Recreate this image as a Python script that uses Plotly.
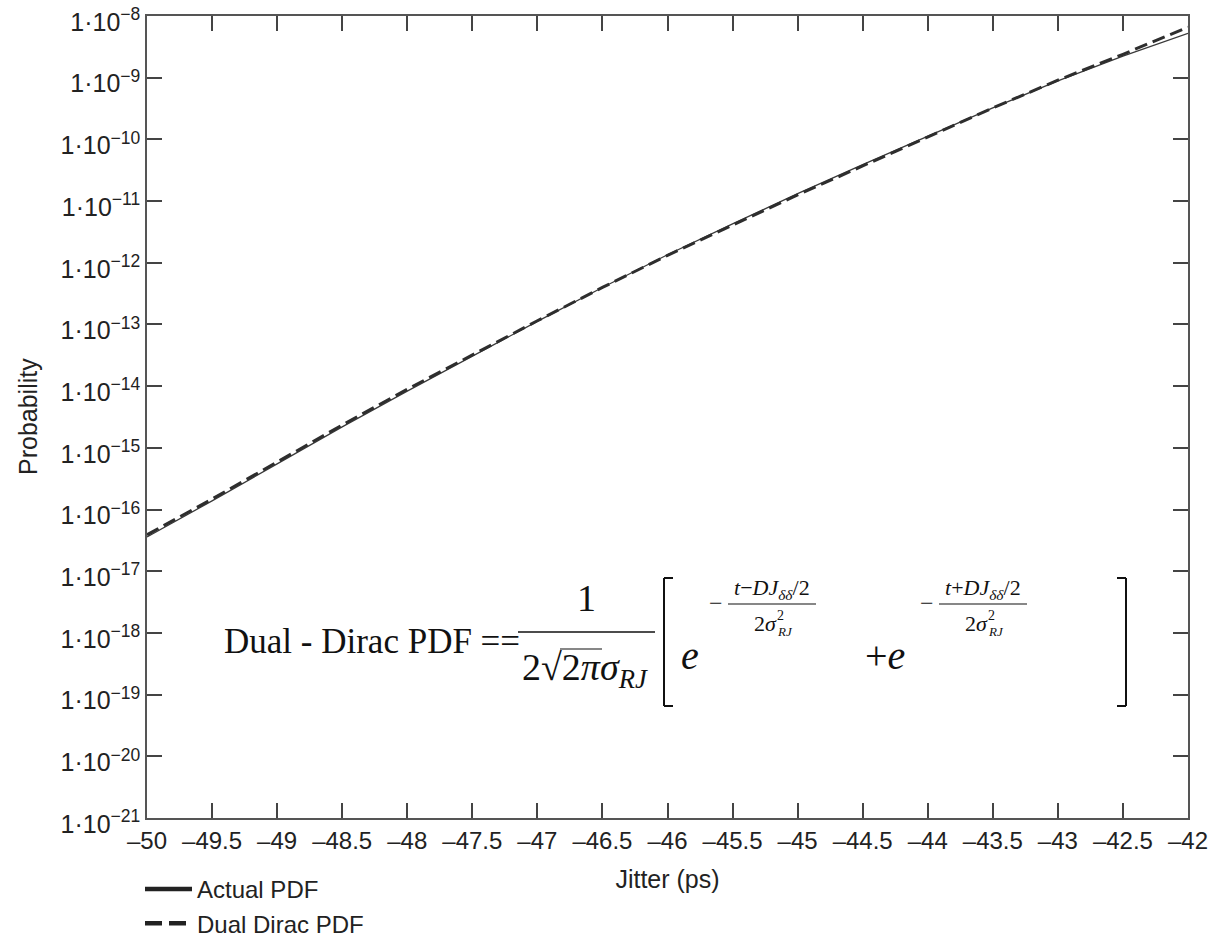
import plotly.graph_objects as go

# ---------------- data ----------------
jitter_ps = [-50, -49.5, -49, -48.5, -48, -47.5, -47, -46.5, -46,
             -45.5, -45, -44.5, -44, -43.5, -43, -42.5, -42]
actual_log10 = [-16.445, -15.86, -15.26, -14.66, -14.08, -13.51, -12.95, -12.40, -11.87,
                -11.37, -10.88, -10.41, -9.95, -9.49, -9.05, -8.65, -8.28]
dual_dirac_log10 = [-16.41, -15.83, -15.23, -14.63, -14.05, -13.49, -12.94, -12.40, -11.88,
                    -11.39, -10.90, -10.43, -9.96, -9.49, -9.04, -8.62, -8.18]
actual_pdf = [10 ** v for v in actual_log10]
dual_dirac_pdf = [10 ** v for v in dual_dirac_log10]

x_tick_vals = [-50 + 0.5 * i for i in range(17)]
x_tick_text = ["–" + ("%g" % abs(v)) for v in x_tick_vals]
y_exponents = list(range(-21, -7))
y_tick_vals = [10.0 ** e for e in y_exponents]
y_tick_text = ["1·10<sup>−%d</sup>" % abs(e) for e in y_exponents]

# ---------------- layout geometry ----------------
W, H = 1214, 946
L, R, T, B = 147, 26, 16, 128
PW, PH = W - L - R, H - T - B


def px(x):
    return (x - L) / PW


def py(y):
    return (H - B - y) / PH


fig = go.Figure()
fig.add_trace(go.Scatter(x=jitter_ps, y=actual_pdf, mode="lines", name="Actual PDF",
                         showlegend=False, line=dict(color="#3a3a3a", width=1.3)))
fig.add_trace(go.Scatter(x=jitter_ps, y=dual_dirac_pdf, mode="lines", name="Dual Dirac PDF",
                         showlegend=False, line=dict(color="#2e2e2e", width=3, dash="13px,6px")))
# legend entries (thick samples as in the reference legend)
fig.add_trace(go.Scatter(x=[None], y=[None], mode="lines", name="Actual PDF",
                         line=dict(color="#222", width=4.5)))
fig.add_trace(go.Scatter(x=[None], y=[None], mode="lines", name="Dual Dirac PDF",
                         line=dict(color="#222", width=4.5, dash="17px,7px")))

SERIF = "Liberation Serif"
ann = []


def txt(x, y, s, size, italic=False, xanchor="center"):
    if italic:
        s = "<i>" + s + "</i>"
    ann.append(dict(x=px(x), y=py(y), xref="paper", yref="paper", text=s, showarrow=False,
                    xanchor=xanchor, yanchor="middle",
                    font=dict(family=SERIF, size=size, color="#111")))


shapes = []


def seg(x0, y0, x1, y1, w=1.5):
    shapes.append(dict(type="line", xref="paper", yref="paper", x0=px(x0), y0=py(y0),
                       x1=px(x1), y1=py(y1), line=dict(color="#111", width=w)))


# main text
txt(372, 641, "Dual - Dirac PDF ==", 35)
# fraction 1 / (2 sqrt(2 pi) sigma_RJ)
txt(586, 598, "1", 38)
seg(518, 632, 655, 632)
txt(585, 670, "2√2<i>πσ</i><sub><i>RJ</i></sub>", 38)
seg(560, 649, 602, 649, 1.2)
# brackets
for (xo, xi) in [(664, 673), (1126, 1117)]:
    seg(xi, 578, xo, 578, 2)
    seg(xo, 578, xo, 706, 2)
    seg(xo, 706, xi, 706, 2)
# exponentials
txt(690, 655, "e", 40, italic=True)
txt(885, 655, "+<i>e</i>", 40)
for off, op in [(0, "−"), (211, "+")]:
    txt(716 + off, 603, "−", 24)
    txt(772 + off, 589, "<i>t</i>" + op + "<i>DJ</i><sub><i>δδ</i></sub>/2", 22)
    seg(728 + off, 604, 816 + off, 604, 1.1)
    txt(765 + off, 623, "2<i>σ</i>", 22)
    txt(775 + off, 615, "2", 14, xanchor="left")
    txt(775 + off, 631, "RJ", 13, italic=True, xanchor="left")

# y-axis title
ann.append(dict(x=px(28), y=py(417), xref="paper", yref="paper", text="Probability",
                showarrow=False, textangle=-90, xanchor="center", yanchor="middle",
                font=dict(family="Liberation Sans", size=25, color="#222")))

fig.update_layout(
    width=W, height=H, autosize=False,
    margin=dict(l=L, r=R, t=T, b=B, autoexpand=False),
    paper_bgcolor="white", plot_bgcolor="white",
    font=dict(family="Liberation Sans", color="#222"),
    showlegend=True,
    legend=dict(x=140 / W, y=0.0, xref="container", yref="container",
                xanchor="left", yanchor="bottom", itemwidth=47,
                font=dict(size=24, family="Liberation Sans", color="#222"),
                bgcolor="rgba(0,0,0,0)", tracegroupgap=0),
    annotations=ann, shapes=shapes,
)
axis_common = dict(showline=True, linecolor="#555", linewidth=1.5, mirror="ticks",
                   ticks="inside", ticklen=15, tickwidth=1.5, tickcolor="#444",
                   showgrid=False, zeroline=False, automargin=True,
                   ticklabeloverflow="allow")
fig.update_xaxes(range=[-50, -42], tickvals=x_tick_vals, ticktext=x_tick_text,
                 tickfont=dict(size=24, family="Liberation Sans", color="#222"),
                 title=dict(text="Jitter (ps)", font=dict(size=25, family="Liberation Sans"),
                            standoff=18),
                 **axis_common)
fig.update_yaxes(type="log", range=[-21.0008, -7.9992], tickvals=y_tick_vals, ticktext=y_tick_text,
                 tickfont=dict(size=25, family="Liberation Sans", color="#222"),
                 ticklabelshift=6,
                 **axis_common)

fig.write_html("out.html")
